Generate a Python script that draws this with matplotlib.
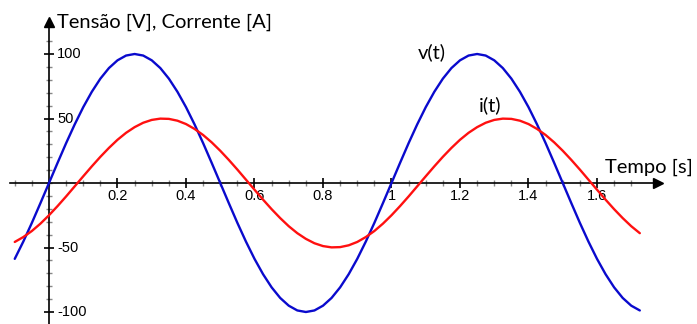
import numpy as np
import matplotlib
matplotlib.use('Agg')
import matplotlib.pyplot as plt
from matplotlib.ticker import FixedLocator, FixedFormatter

# sample times [s]
t = np.round(np.arange(-0.1, 1.7251, 0.025), 3)

# voltage v(t) [V]
v = [-58.8, -45.4, -30.9, -15.6,
     0.0, 15.6, 30.9, 45.4, 58.8, 70.7, 80.9, 89.1, 95.1, 98.8, 100.0,
     98.8, 95.1, 89.1, 80.9, 70.7, 58.8, 45.4, 30.9, 15.6, 0.0,
     -15.6, -30.9, -45.4, -58.8, -70.7, -80.9, -89.1, -95.1, -98.8, -100.0,
     -98.8, -95.1, -89.1, -80.9, -70.7, -58.8, -45.4, -30.9, -15.6, 0.0,
     15.6, 30.9, 45.4, 58.8, 70.7, 80.9, 89.1, 95.1, 98.8, 100.0,
     98.8, 95.1, 89.1, 80.9, 70.7, 58.8, 45.4, 30.9, 15.6, 0.0,
     -15.6, -30.9, -45.4, -58.8, -70.7, -80.9, -89.1, -95.1, -98.8]

# current i(t) [A]
i = [-45.7, -41.9, -37.2, -31.5,
     -25.0, -17.9, -10.4, -2.6, 5.2, 12.9, 20.3, 27.2, 33.5, 38.9,
     43.3, 46.7, 48.9, 49.9, 49.7, 48.3, 45.7, 41.9, 37.2, 31.5,
     25.0, 17.9, 10.4, 2.6, -5.2, -12.9, -20.3, -27.2, -33.5, -38.9,
     -43.3, -46.7, -48.9, -49.9, -49.7, -48.3, -45.7, -41.9, -37.2, -31.5,
     -25.0, -17.9, -10.4, -2.6, 5.2, 12.9, 20.3, 27.2, 33.5, 38.9,
     43.3, 46.7, 48.9, 49.9, 49.7, 48.3, 45.7, 41.9, 37.2, 31.5,
     25.0, 17.9, 10.4, 2.6, -5.2, -12.9, -20.3, -27.2, -33.5, -38.9]

x_ticks = [0.2, 0.4, 0.6, 0.8, 1.0, 1.2, 1.4, 1.6]
x_labels = ['0.2', '0.4', '0.6', '0.8', '1', '1.2', '1.4', '1.6']
y_ticks = [100, 50, -50, -100]
y_labels = ['100', '50', '-50', '-100']

y_title = 'Tensão [V], Corrente [A]'
x_title = 'Tempo [s]'
v_name = 'v(t)'
i_name = 'i(t)'

# pixel mapping: t=0 at x=49px, 342.5 px per second; y=0 at 183px, 1.29 px per unit
PX = 342.5
PY = 1.29
X0 = -49 / PX
X1 = (697 - 49) / PX
Y1 = 183 / PY
Y0 = -(324 - 183) / PY

fig = plt.figure(figsize=(6.97, 3.24), dpi=100)
ax = fig.add_axes([0, 0, 1, 1])
ax.set_xlim(X0, X1)
ax.set_ylim(Y0, Y1)
ax.patch.set_alpha(0)

ax.plot(t, v, color='#0a0acd', lw=1.7, solid_capstyle='round', zorder=3)
ax.plot(t, i, color='#ff1010', lw=1.7, solid_capstyle='round', zorder=3)

for s in ['top', 'right']:
    ax.spines[s].set_visible(False)
ax.spines['left'].set_position(('data', 0))
ax.spines['bottom'].set_position(('data', 0))
ax.spines['left'].set_bounds(Y0, (183 - 20) / PY)
ax.spines['bottom'].set_bounds((10 - 49) / PX, (660 - 49) / PX)
for s in ['left', 'bottom']:
    ax.spines[s].set_linewidth(1.2)
    ax.spines[s].set_color('black')

# arrows
ax.plot(0, (183 - 22) / PY, marker='^', ms=7, color='black', clip_on=False, zorder=4)
ax.plot((658 - 49) / PX, 0, marker='>', ms=7, color='black', clip_on=False, zorder=4)

x_minor = np.round(np.arange(-0.1, 1.7001, 0.05), 3)
y_minor = np.arange(-100, 111, 10)

ax.xaxis.set_major_locator(FixedLocator(x_ticks))
ax.xaxis.set_major_formatter(FixedFormatter(x_labels))
ax.xaxis.set_minor_locator(FixedLocator(x_minor))
ax.yaxis.set_major_locator(FixedLocator(y_ticks))
ax.yaxis.set_major_formatter(FixedFormatter([''] * len(y_ticks)))
ax.yaxis.set_minor_locator(FixedLocator(y_minor))

ax.tick_params(which='major', direction='inout', length=7, width=1.2, color='black',
               labelsize=10.5, pad=1)
ax.tick_params(which='minor', direction='inout', length=5, width=1.0, color='#888888')
for lab in ax.get_xticklabels():
    lab.set_fontfamily('Liberation Sans')

for yt, yl in zip(y_ticks, y_labels):
    ax.annotate(yl, xy=(0, yt), xytext=(6, 0), textcoords='offset points',
                ha='left', va='center', fontsize=10.5, family='Liberation Sans')

tfont = 'Lato'
ax.text((57 - 49) / PX, (183 - 22) / PY, y_title, ha='left', va='center',
        fontsize=14.5, family=tfont)
ax.text((649 - 49) / PX, (183 - 167) / PY, x_title, ha='center', va='center',
        fontsize=14.5, family=tfont)
ax.text((432 - 49) / PX, (183 - 52) / PY, v_name, ha='center', va='center',
        fontsize=14.5, family=tfont)
ax.text((490 - 49) / PX, (183 - 105) / PY, i_name, ha='center', va='center',
        fontsize=14.5, family=tfont)

fig.savefig('out.png', dpi=100, facecolor='white')
